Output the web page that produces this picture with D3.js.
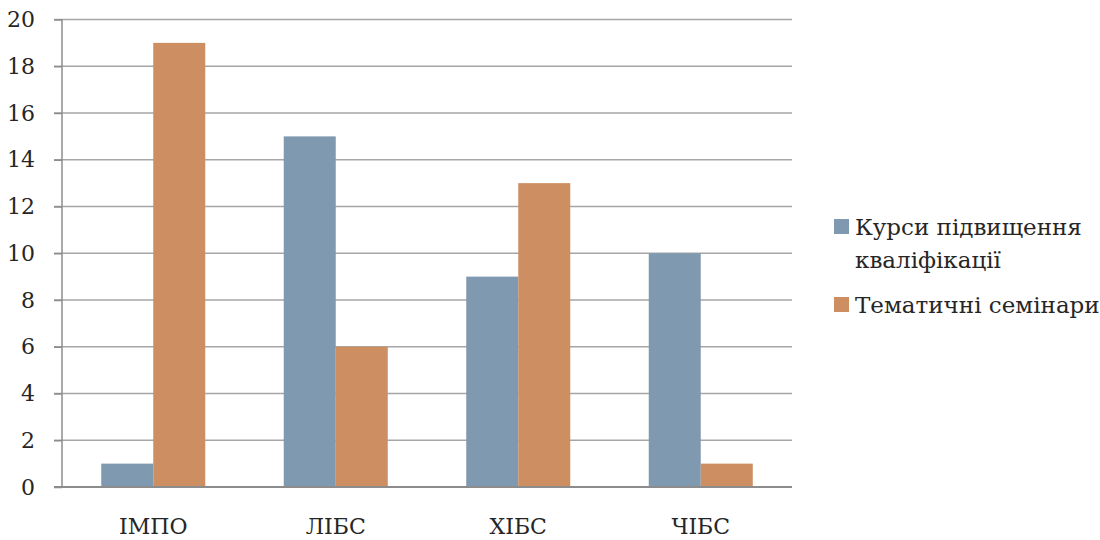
<!DOCTYPE html>
<html><head><meta charset="utf-8">
<script src="https://cdn.jsdelivr.net/npm/d3@7"></script>
<style>body{margin:0;background:#fff}svg{display:block}text{font-family:"DejaVu Serif",serif;fill:#262626}</style>
</head><body>
<svg id="c" width="1100" height="540"></svg>
<script>
const categories = ["ІМПО", "ЛІБС", "ХІБС", "ЧІБС"];
const seriesNames = ["Курси підвищення кваліфікації", "Тематичні семінари"];
const courses = [1, 15, 9, 10];
const seminars = [19, 6, 13, 1];
const yTicks = [0, 2, 4, 6, 8, 10, 12, 14, 16, 18, 20];
const colors = ["#7f99b0", "#cd8f61"];

(function () {
const FF = '"DejaVu Serif",serif';
const svg = d3.select("#c");
const pl = 62, pr = 792, pt = 19.5, pb = 487;
const x = d3.scaleBand().domain(categories).range([pl, pr]).paddingInner(0.43).paddingOuter(0.215);
const xs = d3.scaleBand().domain([0, 1]).range([0, x.bandwidth()]);
const y = d3.scaleLinear().domain([0, 20]).range([pb, pt]);

// gridlines
svg.append("g").selectAll("line").data(yTicks.filter(d => d > 0)).join("line")
  .attr("x1", pl - 8).attr("x2", pr).attr("y1", d => y(d)).attr("y2", d => y(d))
  .attr("stroke", "#a6a6a6").attr("stroke-width", 1.5);

const data = categories.map((c, i) => ({ c, v: [courses[i], seminars[i]] }));
const g = svg.append("g");
data.forEach(d => {
  d.v.forEach((v, j) => {
    g.append("rect").attr("x", x(d.c) + xs(j)).attr("width", xs.bandwidth())
      .attr("y", y(v)).attr("height", y(0) - y(v)).attr("fill", colors[j]);
  });
});

// y axis
const ya = d3.axisLeft(y).tickValues(yTicks).tickSize(8).tickPadding(19);
const yg = svg.append("g").attr("transform", `translate(${pl},0)`).call(ya);
yg.attr("font-size", null).attr("font-family", null);
yg.select(".domain").attr("stroke", "#8c8c8c").attr("stroke-width", 1.5).attr("d", `M0,${pt}V${pb}`);
yg.selectAll(".tick line").attr("stroke", "#8c8c8c").attr("stroke-width", 1.5);
yg.selectAll(".tick text").style("font-size", "22px").style("font-family", FF).attr("fill", "#262626");

// x axis
const xa = d3.axisBottom(x).tickSize(0).tickPadding(31);
const xg = svg.append("g").attr("transform", `translate(0,${pb})`).call(xa);
xg.attr("font-size", null).attr("font-family", null);
xg.select(".domain").attr("stroke", "#8c8c8c").attr("stroke-width", 2).attr("d", `M${pl-8},0H${pr}`);
xg.selectAll(".tick text").style("font-size", "22px").style("font-family", FF).attr("fill", "#262626");

// legend
const leg = svg.append("g");
const legLines = [["Курси підвищення", "кваліфікації"], ["Тематичні семінари"]];
const legY = [219, 297];
legLines.forEach((lines, i) => {
  leg.append("rect").attr("x", 834).attr("y", legY[i]).attr("width", 15).attr("height", 15).attr("fill", colors[i]);
  lines.forEach((t, k) => {
    leg.append("text").attr("x", 855).attr("y", legY[i] + 16 + k * 33).style("font-size", "23px").style("font-family", FF).text(t);
  });
});
})();
</script>
</body></html>
